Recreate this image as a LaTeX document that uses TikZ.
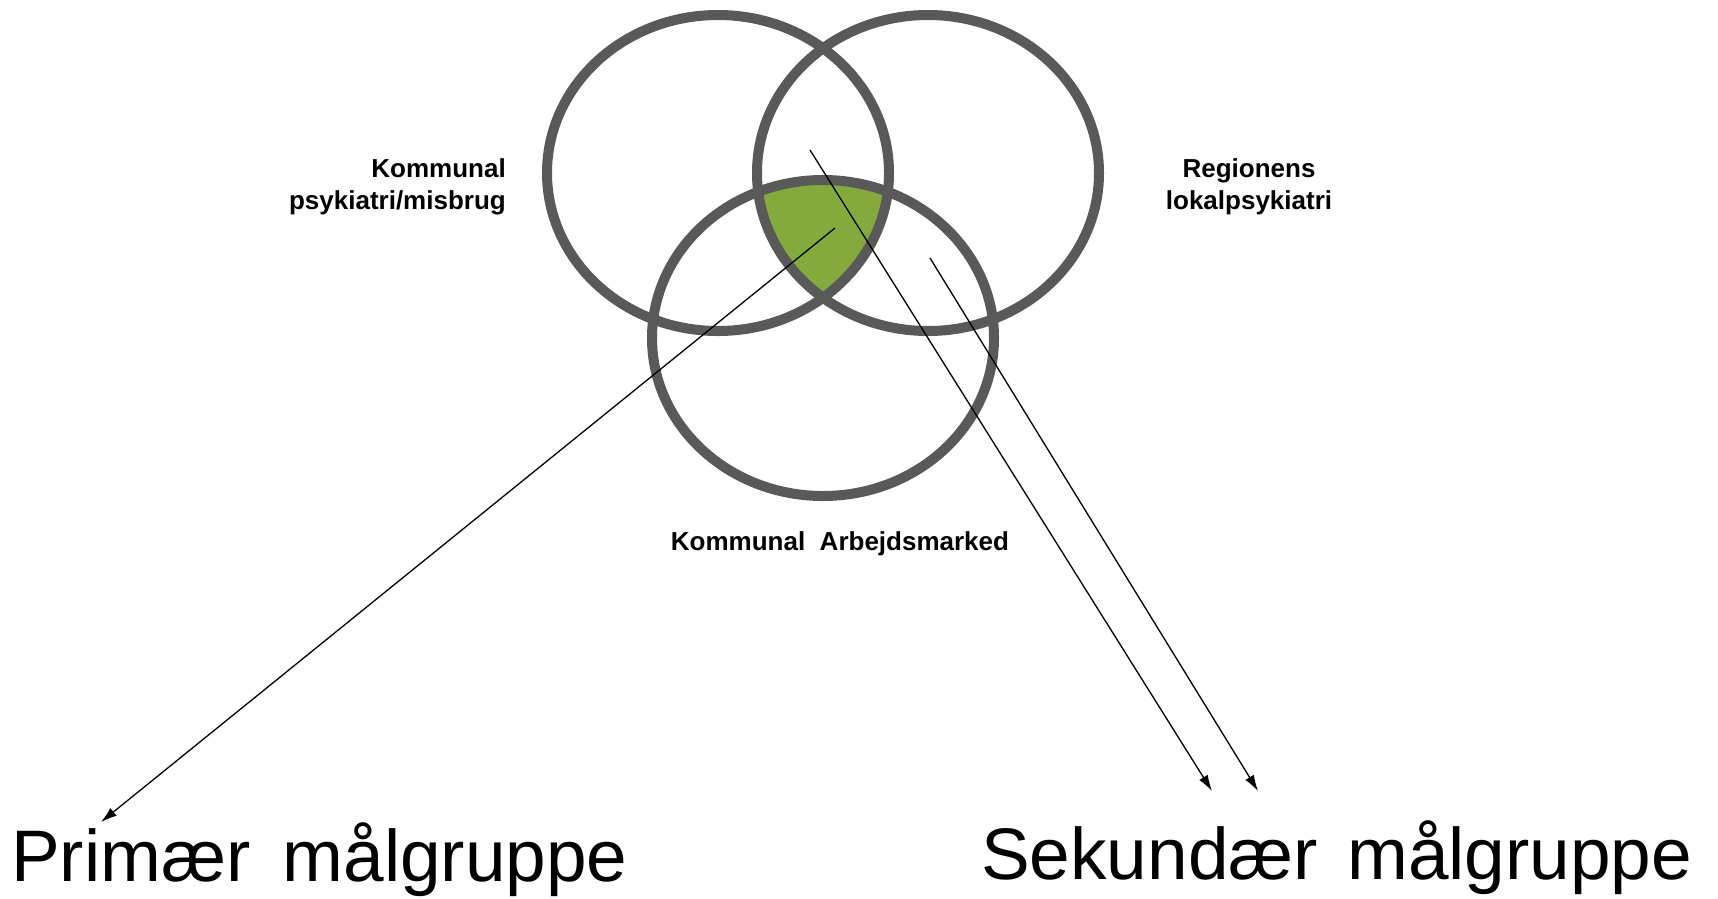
\documentclass[tikz,border=0pt]{standalone}
\usepackage{fontspec}
\setmainfont{Liberation Sans}
\usetikzlibrary{arrows.meta}
\definecolor{ringgray}{RGB}{89,89,89}
\definecolor{coregreen}{RGB}{132,170,62}
\begin{document}
\begin{tikzpicture}[x=1pt,y=-1pt,
  ring/.style={draw=ringgray,line width=10pt},
  lbl/.style={font=\bfseries\fontsize{26}{31}\selectfont,inner sep=0pt},
  big/.style={font=\fontsize{73}{88}\selectfont,inner sep=0pt},
  pointer/.style={draw=black,line width=1.3pt,-{Latex[length=16pt,width=10pt]}},
  oval/.style={x radius=171pt,y radius=158pt}]
\useasboundingbox[fill=white] (0,0) rectangle (1718,898);
\coordinate (cL) at (718,173);
\coordinate (cR) at (928,173);
\coordinate (cB) at (823,338);
\begin{scope}
  \clip (cL) ellipse [oval];
  \clip (cR) ellipse [oval];
  \fill[coregreen] (cB) ellipse [oval];
\end{scope}
\draw[ring] (cL) ellipse [oval];
\draw[ring] (cR) ellipse [oval];
\draw[ring] (cB) ellipse [oval];
\node[lbl,anchor=base east] (kp1) at (506,177.5) {Kommunal};
\node[lbl,anchor=base east] (kp2) at (506,209) {psykiatri/misbrug};
\node[lbl,anchor=base] (rl1) at (1249,177.5) {Regionens};
\node[lbl,anchor=base] (rl2) at (1249,209) {lokalpsykiatri};
\node[lbl,anchor=base] (ka) at (840,550) {Kommunal\ \ Arbejdsmarked};
\node[big,anchor=base west] (prim) at (11,881) {Primær \hspace{12pt}målgruppe};
\node[big,anchor=base west] (sek) at (981,879) {Sekundær \hspace{9pt}målgruppe};
\coordinate (s1) at (835,228);
\coordinate (t1) at (101,822);
\coordinate (s2) at (810,150);
\coordinate (t2) at (1212,791);
\coordinate (s3) at (930,258);
\coordinate (t3) at (1258,791);
\draw[pointer] (s1) -- (t1);
\draw[pointer] (s2) -- (t2);
\draw[pointer] (s3) -- (t3);
\end{tikzpicture}
\end{document}
